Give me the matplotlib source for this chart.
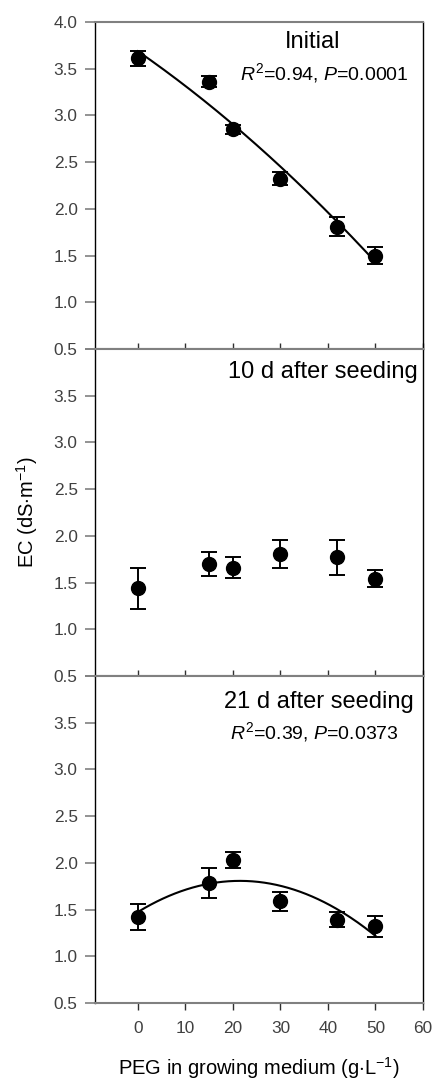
import numpy as np
import matplotlib
matplotlib.use("Agg")
import matplotlib.pyplot as plt

plt.rcParams['font.family'] = ['Liberation Sans', 'DejaVu Sans']
plt.rcParams['mathtext.fontset'] = 'custom'
plt.rcParams['mathtext.rm'] = 'Liberation Sans'
plt.rcParams['mathtext.it'] = 'Liberation Sans:italic'

# PEG concentration (g/L)
peg = [0, 15, 20, 30, 42, 50]

# EC means and error bars for each sampling time
ec_initial = [3.61, 3.36, 2.85, 2.32, 1.81, 1.50]
err_initial = [0.08, 0.06, 0.05, 0.07, 0.10, 0.09]
ec_10d = [1.44, 1.70, 1.66, 1.81, 1.77, 1.54]
err_10d = [0.22, 0.13, 0.115, 0.15, 0.19, 0.09]
ec_21d = [1.42, 1.78, 2.03, 1.59, 1.39, 1.32]
err_21d = [0.135, 0.16, 0.09, 0.10, 0.08, 0.11]

panels = [
    (ec_initial, err_initial, True, "Initial", r"$\mathit{R}^{2}$=0.94, $\mathit{P}$=0.0001"),
    (ec_10d, err_10d, False, "10 d after seeding", None),
    (ec_21d, err_21d, True, "21 d after seeding", r"$\mathit{R}^{2}$=0.39, $\mathit{P}$=0.0373"),
]

fig = plt.figure(figsize=(4.35, 10.84), dpi=100)
left, width, h = 95 / 435, 328 / 435, 327 / 1084
bottoms = [1 - 349 / 1084, 1 - 676 / 1084, 1 - 1003 / 1084]

for i, (ec, err, fit, title, stat) in enumerate(panels):
    ax = fig.add_axes([left, bottoms[i], width, h])
    ax.errorbar(peg, ec, yerr=err, fmt='o', color='black', markersize=10,
                capsize=6, elinewidth=1.4, capthick=1.4, zorder=3)
    if fit:
        coef = np.polyfit(peg, ec, 2)
        xs = np.linspace(0, 50, 200)
        ax.plot(xs, np.polyval(coef, xs), color='black', lw=1.5, zorder=2)
    ax.set_xlim(-9, 60)
    ax.set_ylim(0.5, 4.0)
    ax.set_xticks([0, 10, 20, 30, 40, 50, 60])
    ax.set_yticks(np.arange(0.5, 4.01, 0.5))
    if i == 0:
        ax.set_yticklabels(["%.1f" % v for v in np.arange(0.5, 4.01, 0.5)])
    else:
        ax.set_yticklabels(["%.1f" % v for v in np.arange(0.5, 3.51, 0.5)] + [""])
    for s in ['top', 'bottom']:
        ax.spines[s].set_color('#808080')
        ax.spines[s].set_linewidth(1.5)
    for s in ['left', 'right']:
        ax.spines[s].set_color('black')
        ax.spines[s].set_linewidth(1.0)
    ax.tick_params(axis='y', direction='out', length=7, width=1.2, color='#808080',
                   labelsize=12.4, labelcolor='#404040', pad=5.5)
    if i < 2:
        ax.tick_params(axis='x', direction='in', length=4, width=1.0, color='#303030',
                       labelbottom=False)
    else:
        ax.tick_params(axis='x', direction='out', length=5, width=1.0, color='#303030',
                       labelsize=12.4, labelcolor='#404040', pad=8)
    if i == 1:
        ax.text(0.985, 0.93, title, transform=ax.transAxes, ha='right', va='center', fontsize=17)
    elif i == 0:
        ax.text(0.665, 0.94, title, transform=ax.transAxes, ha='center', va='center', fontsize=17)
        ax.text(0.70, 0.845, stat, transform=ax.transAxes, ha='center', va='center', fontsize=14)
    else:
        ax.text(0.973, 0.92, title, transform=ax.transAxes, ha='right', va='center', fontsize=17)
        ax.text(0.67, 0.83, stat, transform=ax.transAxes, ha='center', va='center', fontsize=14)
    if i == 1:
        ax.set_ylabel(r"EC (dS$\cdot$m$^{-1}$)", fontsize=14.5, labelpad=10)
    if i == 2:
        ax.set_xlabel(r"PEG in growing medium (g$\cdot$L$^{-1}$)", fontsize=14.5, labelpad=14)

fig.savefig("out.png", dpi=100)
